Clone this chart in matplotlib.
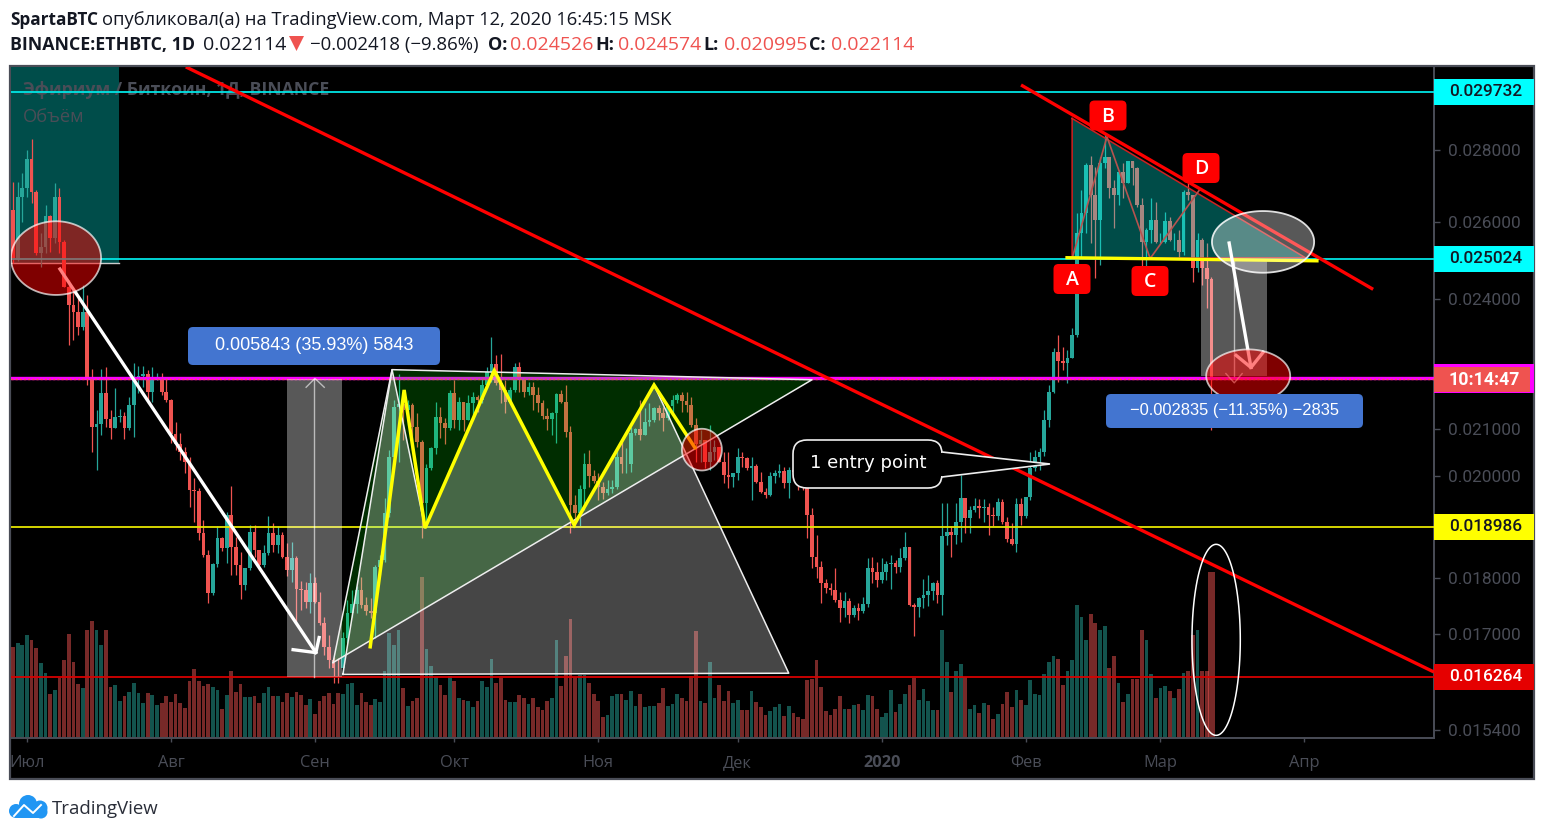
import numpy as np
import matplotlib
matplotlib.use("Agg")
import matplotlib.pyplot as plt
from matplotlib.patches import Rectangle, FancyBboxPatch, Polygon, Circle

W, H = 1544, 835

# ETHBTC daily candles, Jun 28 2019 - Mar 12 2020, price * 1e5
first_open = 2633
close = [2501,2668,2693,2774,2682,2519,2534,2617,2558,2668,2548,2433,2388,2371,2335,2371,2219,2107,2114,2182,
         2125,2105,2130,2132,2105,2156,2217,2221,2226,2185,2217,2217,2185,2167,2093,2070,2053,2032,1976,1974,
         1891,1848,1778,1831,1881,1862,1926,1864,1829,1792,1824,1893,1858,1829,1852,1891,1867,1887,1845,1820,
         1843,1785,1783,1761,1796,1761,1724,1682,1660,1646,1645,1698,1742,1758,1783,1756,1744,1742,1826,1839,
         1930,2044,2151,2158,2145,2156,2107,2076,1950,2021,2063,2130,2116,2105,2182,2123,2163,2123,2160,2174,
         2167,2200,2230,2249,2205,2189,2163,2189,2240,2212,2185,2196,2178,2160,2132,2125,2138,2180,2163,2097,
         1946,1930,1978,2028,2004,1994,1982,1970,1978,1982,2044,2028,2028,2095,2103,2090,2119,2123,2149,2138,
         2127,2154,2167,2178,2165,2156,2112,2070,2080,2034,2055,2065,2032,2007,2002,2011,2044,2042,2021,2025,
         1992,1972,1966,2004,2011,2015,1990,2017,2013,2009,2000,1926,1845,1826,1796,1787,1783,1765,1751,1763,
         1738,1751,1745,1758,1824,1817,1802,1817,1831,1833,1826,1843,1864,1756,1752,1769,1774,1781,1796,1774,
         1885,1893,1887,1912,1960,1920,1936,1944,1940,1942,1926,1924,1952,1912,1879,1869,1948,1924,1962,2021,
         2044,2055,2123,2185,2276,2256,2251,2263,2316,2571,2625,2757,2674,2606,2763,2780,2693,2674,2738,2707,
         2768,2748,2646,2548,2579,2606,2548,2548,2604,2553,2553,2522,2682,2674,2481,2553,2481,2453,2211]
high = [2710,2710,2735,2800,2832,2688,2571,2646,2619,2707,2693,2553,2451,2425,2408,2438,2413,2237,2145,2237,
        2242,2145,2194,2147,2141,2174,2251,2244,2244,2235,2242,2228,2228,2219,2169,2119,2095,2065,2044,2000,
        1980,1916,1858,1833,1903,1883,1932,1984,1883,1854,1824,1906,1906,1858,1867,1924,1910,1903,1893,1871,
        1873,1846,1800,1798,1815,1807,1779,1734,1703,1665,1663,1707,1765,1783,1790,1807,1770,1769,1829,1848,
        1960,2059,2167,2224,2167,2167,2160,2138,2080,2028,2065,2163,2151,2127,2189,2212,2174,2163,2178,2185,
        2178,2217,2242,2311,2270,2272,2212,2196,2251,2253,2219,2208,2208,2196,2167,2149,2141,2182,2189,2200,
        2109,1966,1986,2051,2059,2017,2011,1992,1996,1996,2065,2076,2063,2107,2105,2167,2149,2160,2151,2156,
        2151,2156,2178,2182,2185,2185,2174,2127,2101,2080,2112,2080,2065,2053,2055,2011,2063,2055,2044,2044,
        2028,2013,1980,2013,2017,2028,2023,2023,2021,2017,2017,2000,1940,1887,1837,1804,1796,1824,1779,1779,
        1769,1756,1760,1770,1843,1845,1835,1843,1837,1848,1839,1862,1893,1864,1760,1770,1804,1811,1798,1802,
        1950,1950,1903,1950,2007,1960,1944,1960,1958,1958,1950,1942,1960,1958,1922,1910,1960,1960,1962,2053,
        2059,2063,2145,2200,2285,2316,2288,2281,2333,2625,2688,2763,2782,2751,2780,2850,2780,2715,2743,2763,
        2768,2768,2751,2665,2585,2665,2655,2571,2628,2614,2571,2579,2688,2707,2674,2571,2558,2545,2457]
low = [2494,2499,2601,2668,2652,2514,2483,2519,2522,2545,2519,2433,2292,2304,2316,2328,2200,2055,2017,2090,
       2107,2082,2105,2119,2082,2101,2086,2182,2196,2160,2163,2212,2178,2163,2074,2059,2038,2011,1942,1912,
       1877,1845,1760,1774,1826,1856,1833,1811,1811,1767,1783,1820,1845,1820,1826,1848,1854,1852,1843,1809,
       1798,1726,1747,1751,1742,1760,1720,1668,1646,1621,1621,1635,1689,1734,1742,1751,1738,1733,1698,1811,
       1835,1922,2042,2032,2080,2112,2059,2065,1881,1906,2017,2049,2084,2070,2101,2105,2101,2099,2123,2123,
       2141,2160,2194,2208,2200,2160,2138,2160,2185,2185,2174,2178,2145,2141,2125,2101,2090,2074,2160,2086,
       1891,1903,1903,1936,1982,1990,1956,1958,1966,1970,1978,2011,2011,2013,2090,2080,2090,2110,2119,2123,
       2099,2123,2138,2160,2141,2141,2107,2032,2032,2021,2017,2038,2032,1990,1980,1982,1996,2023,2017,1956,
       1990,1970,1960,1964,1990,2002,1980,1960,1996,1976,1976,1881,1824,1805,1760,1778,1774,1761,1726,1734,
       1724,1734,1729,1742,1752,1796,1789,1796,1802,1785,1815,1817,1839,1754,1701,1734,1751,1754,1765,1760,
       1738,1867,1845,1869,1873,1891,1891,1932,1920,1912,1887,1903,1916,1908,1873,1867,1854,1905,1920,1956,
       2015,2017,2046,2107,2182,2208,2235,2205,2263,2311,2509,2571,2545,2456,2489,2748,2665,2585,2646,2665,
       2707,2701,2641,2483,2483,2545,2545,2545,2545,2550,2527,2509,2514,2660,2446,2471,2438,2382,2100]
volume = [91,95,93,103,98,90,75,65,44,48,60,78,104,76,54,50,108,117,108,93,
          108,51,53,37,42,46,55,45,35,45,43,33,35,42,36,44,35,30,57,69,
          57,52,54,51,48,29,43,67,46,54,41,41,42,35,45,51,42,42,36,45,
          41,46,43,33,39,24,37,42,45,34,45,44,54,55,33,45,36,33,39,36,
          67,105,93,108,50,32,37,40,161,89,72,61,53,43,62,57,40,38,37,31,
          37,57,51,79,55,60,38,36,36,43,40,34,40,31,28,37,40,98,52,82,
          119,61,63,63,55,44,37,21,23,42,44,44,38,47,32,44,31,32,32,35,
          50,32,34,44,40,37,62,107,37,35,76,40,53,37,47,35,38,28,28,47,
          36,31,23,27,31,34,22,32,25,21,19,58,59,78,51,27,23,29,42,29,
          29,33,34,28,43,42,29,21,25,48,26,34,44,53,60,38,49,37,28,28,
          108,76,46,67,74,61,29,33,25,35,33,19,24,34,46,31,48,38,33,58,
          44,43,64,76,82,79,53,67,78,133,121,98,124,115,108,112,70,82,55,36,
          44,59,59,108,98,64,40,50,52,47,40,49,65,67,103,108,67,67,166]

# axis labels
month_pos = [3, 34, 65, 95, 126, 156, 187, 218, 247, 278]
month_names = ["Июл", "Авг", "Сен", "Окт", "Ноя", "Дек", "2020", "Фев", "Мар", "Апр"]
price_ticks = [0.028, 0.026, 0.024, 0.021, 0.020, 0.018, 0.017, 0.0154]

# horizontal levels
level_top = 0.029732
level_mid = 0.025024
level_yellow = 0.018986
level_low = 0.016264
level_magenta = 0.02214
last_price = 0.022114

# drawings, (bar index, price)
trend_long = ([37.2, 305.9], [0.03049, 0.01639])
trend_short = ([217, 292.8], [0.02993, 0.02427])
green_tri = ([68.9, 81.6, 172], [0.01655, 0.02235, 0.02212])
pattern = ([71, 81.6, 88.7, 103.6, 120.8, 138, 167],
           [0.01635, 0.02235, 0.0190, 0.02233, 0.01906, 0.0220, 0.01637])
yellow_zig = ([76.9, 84.2, 88.7, 103.6, 120.8, 138, 146.8],
              [0.01682, 0.02189, 0.0190, 0.02233, 0.01906, 0.0220, 0.02063])
abcd_tri = ([228, 228, 278.2], [0.02892, 0.02505, 0.02507])
abcd_zig = ([228, 235.5, 244.8, 255.5], [0.02505, 0.02838, 0.02505, 0.02689])
yellow_line = ([226.9, 280.7], [0.02507, 0.02499])
rect_up = (59, 70.8, 0.016264, 0.022107)
rect_down = (255.8, 270, 0.022189, 0.025024)
head_up = ([63.1, 65, 67], [0.02195, 0.02215, 0.02195])
head_down = ([261.1, 262.9, 264.6], [0.02226, 0.02205, 0.02226])
arrow_down_left = ([10.1, 65.2], [0.02478, 0.01672])
arrow_head_left = ([60.3, 65.2, 65.9], [0.01677, 0.01672, 0.01698])
arrow_down_right = ([261.8, 266.5], [0.02545, 0.0224])
arrow_head_right = ([263.3, 266.5, 269.1], [0.02268, 0.0224, 0.02275])

bg = "#000000"
scale_col = "#4a4d57"
up_col = "#26a69a"
down_col = "#ef5350"
tag_font = "Roboto"


def cal(p):
    # values were read with a slightly different px-per-log-unit, 975 vs 970
    return 0.028 * (np.asarray(p, dtype=float) / 0.028) ** (975 / 970)


close = cal(np.array(close) / 1e5)
high = cal(np.array(high) / 1e5)
low = cal(np.array(low) / 1e5)
open_ = np.r_[cal(first_open / 1e5), close[:-1]]
x = np.arange(len(close))
is_up = close >= open_
colors = np.where(is_up, up_col, down_col)

fig = plt.figure(figsize=(W / 100, H / 100), dpi=100, facecolor="white")
plt.rcParams["font.family"] = ["Open Sans", "DejaVu Sans"]


def fx(v):
    return v / W


def fy(v):
    return 1 - v / H


def px_rect(x0, y0, x1, y1, **kw):
    fig.add_artist(Rectangle((fx(x0), fy(y1)), fx(x1 - x0), (y1 - y0) / H,
                             transform=fig.transFigure, **kw))


def px_round(x0, y0, x1, y1, r, **kw):
    # rounded box, given in pixels of the picture
    fig.add_artist(FancyBboxPatch((x0 + r, H - y1 + r), x1 - x0 - 2 * r, y1 - y0 - 2 * r,
                                  boxstyle=f"round,pad={r},rounding_size={r}",
                                  transform=None, **kw))


def px_text(px, py, s, **kw):
    kw.setdefault("va", "center")
    fig.text(fx(px), fy(py), s, **kw)


def closed(shape):
    return shape[0] + shape[0][:1], list(cal(shape[1] + shape[1][:1]))


# chart frame
px_rect(10, 66, 1534, 779, facecolor=bg, edgecolor=scale_col, linewidth=1.6, zorder=-5)

pos = [fx(11), fy(738), fx(1434 - 11), (738 - 67) / H]
ax_vol = fig.add_axes(pos, facecolor=bg)
ax = fig.add_axes(pos)
ax.patch.set_visible(False)

# volume pane, same box as the price pane
vol_width = np.full(len(x), 0.8)
vol_width[-1] = 1.35
ax_vol.bar(x, volume, width=vol_width, color=np.where(is_up, "#26a69a80", "#ef535080"), linewidth=0)
ax_vol.set_xlim(-0.43, 305.9)
ax_vol.set_ylim(0, 671)
ax_vol.axis("off")

ax.set_yscale("log")
ax.set_xlim(-0.43, 305.9)
ax.set_ylim(0.01527, 0.0305)

p_box = cal(0.02494)
ax.fill([-0.43, 22.8, 22.8, -0.43], [0.0305, 0.0305, p_box, p_box], color="#004d4a", lw=0, zorder=1)
ax.plot([-0.43, 22.8], [p_box, p_box], color="white", lw=1, alpha=0.8, zorder=1.1)

ax.vlines(x, low, high, colors=colors, lw=0.9, zorder=2)
ax.bar(x, close - open_, bottom=open_, width=0.8, color=colors, linewidth=0, zorder=2)

ax.text(0.0084, 0.9657, "Эфириум / Биткоин, 1Д, BINANCE", color=scale_col, fontsize=12.7,
        fontweight="bold", va="center", transform=ax.transAxes, zorder=2.5)
ax.text(0.0084, 0.9255, "Объём", color=scale_col, fontsize=13.2, va="center",
        transform=ax.transAxes, zorder=2.5)

# levels
ax.axhline(level_top, color="#00e5e5", lw=1.3, zorder=3)
ax.axhline(level_mid, color="#00e5e5", lw=1.3, zorder=3)
ax.axhline(level_yellow, color="#e6e600", lw=1.3, zorder=3)
ax.axhline(level_low, color="#d80000", lw=1.3, zorder=3)
ax.axhline(level_magenta, color="#ff00ff", lw=2.4, zorder=3)
ax.axhline(last_price, color="#ef5350", lw=1, ls=(0, (1.5, 1.5)), zorder=3)

# shapes on top of the candles
ax.fill(green_tri[0], cal(green_tri[1]), color=(0, 1, 0, 0.18), lw=0, zorder=4)
ax.fill(pattern[0], cal(pattern[1]), color=(1, 1, 1, 0.28), lw=0, zorder=4)
ax.plot(*closed(green_tri), color="#eeeeee", lw=1.1, zorder=4.1)
ax.plot(*closed(pattern), color="#eeeeee", lw=1.1, zorder=4.1)

ax.fill(abcd_tri[0], cal(abcd_tri[1]), color=(0, 1, 0.95, 0.3), lw=0, zorder=4)
ax.plot(*closed(abcd_tri), color="#d02020", lw=1.1, zorder=4.1)
ax.plot(abcd_zig[0], cal(abcd_zig[1]), color="#b5534f", lw=1.2, zorder=4.2)

for x0, x1, p0, p1 in (rect_up, rect_down):
    ax.fill([x0, x1, x1, x0], [p0, p0, p1, p1], color=(1, 1, 1, 0.35), lw=0, zorder=4)
    mid = (x0 + x1) / 2
    ax.plot([mid, mid], [p0, p1], color="white", lw=1, alpha=0.6, zorder=4.1)
ax.plot(head_up[0], cal(head_up[1]), color="white", lw=1, alpha=0.6, zorder=4.1)
ax.plot(head_down[0], cal(head_down[1]), color="white", lw=1, alpha=0.6, zorder=4.1)

ax.plot(trend_long[0], cal(trend_long[1]), color="#ff0000", lw=2.4, zorder=5, solid_capstyle="butt")
ax.plot(trend_short[0], cal(trend_short[1]), color="#ff0000", lw=2.4, zorder=5, solid_capstyle="butt")
ax.plot(yellow_line[0], cal(yellow_line[1]), color="#ffff00", lw=2.4, zorder=5)
ax.plot(yellow_zig[0], cal(yellow_zig[1]), color="#ffff00", lw=2.5, zorder=5, solid_joinstyle="miter")

for shape in (arrow_down_left, arrow_head_left, arrow_down_right, arrow_head_right):
    ax.plot(shape[0], cal(shape[1]), color="white", lw=2.4, zorder=5)


def ellipse(cx, cy, rx, ry, face, edge, lw=1.3):
    t = np.linspace(0, 2 * np.pi, 120)
    ax.fill(cx + rx * np.cos(t), cal(cy) * np.exp(ry * np.sin(t)), facecolor=face, edgecolor=edge,
            lw=lw, zorder=6)


ellipse(9.26, 0.02506, 9.7, 0.038, (1, 0, 0, 0.5), (1, 1, 1, 0.7))
ellipse(148.3, 0.02059, 4.3, 0.0215, (1, 0, 0, 0.5), (1, 1, 1, 0.7))
ellipse(269.1, 0.02548, 11, 0.0318, (1, 1, 1, 0.35), (1, 1, 1, 0.85))
ellipse(265.9, 0.02221, 9.04, 0.0272, (1, 0, 0, 0.5), (1, 1, 1, 0.7))
ellipse(259, 0.01694, 5.2, 0.0985, (0, 0, 0, 0), "white", lw=1.1)

# axes look
for name, sp in ax.spines.items():
    sp.set_visible(name in ("right", "bottom"))
    sp.set_color(scale_col)
    sp.set_linewidth(1.4)
ax.yaxis.tick_right()
ax.set_yticks(price_ticks)
ax.set_yticklabels([f"{p:.6f}" for p in price_ticks], fontfamily=tag_font, fontsize=12.4)
ax.minorticks_off()
ax.tick_params(axis="y", colors=scale_col, length=4, width=1, pad=6)
ax.set_xticks(month_pos)
ax.set_xticklabels(month_names, fontsize=11.8)
ax.tick_params(axis="x", colors=scale_col, length=3, width=1, pad=9)
for lab in ax.get_xticklabels():
    if lab.get_text() == "2020":
        lab.set_fontweight("bold")


def price_y(p):
    return H - ax.transData.transform((0, p))[1]


# price tags on the scale
for p, face, txt, col in [(level_top, "#00ffff", "0.029732", "#131722"),
                          (level_mid, "#00ffff", "0.025024", "#131722"),
                          (level_yellow, "#ffff00", "0.018986", "#131722"),
                          (level_low, "#e50000", "0.016264", "white")]:
    yy = price_y(p)
    px_rect(1434, yy - 13, 1534, yy + 13, facecolor=face, linewidth=0, zorder=3)
    px_text(1449, yy, txt, color=col, fontfamily=tag_font, fontsize=12.4, fontweight="medium", zorder=4)
px_rect(1434, 364, 1534, 393, facecolor="#ff00ff", linewidth=0, zorder=3)
px_rect(1434, 367, 1530, 392, facecolor=down_col, linewidth=0, zorder=3.1)
px_text(1448, 380, "10:14:47", color="white", fontfamily=tag_font, fontsize=12.8, fontweight="bold", zorder=4)

# measure labels
px_round(188, 327, 440, 365, 5, facecolor="#4375d0", linewidth=0, zorder=3)
px_text(314, 345.5, "0.005843 (35.93%) 5843", color="white", fontfamily="Liberation Sans",
        fontsize=13, ha="center", zorder=4)
px_round(1106, 394, 1363, 428, 5, facecolor="#4375d0", linewidth=0, zorder=3)
px_text(1234.5, 411, "−0.002835 (−11.35%) −2835", color="white", fontfamily="Liberation Sans",
        fontsize=11.9, ha="center", zorder=4)

# A B C D
for cx, cy, s in [(1072, 279, "A"), (1108, 115.5, "B"), (1150, 281, "C"), (1201, 168, "D")]:
    w = 18.5
    px_round(cx - w, cy - 15, cx + w, cy + 15, 5, facecolor="#ff0000", linewidth=0, zorder=3)
    px_text(cx, cy + 1, s, color="white", fontsize=14, fontweight="semibold", ha="center", zorder=4)

# callout
px_round(793, 440, 942, 488, 14, facecolor="black", edgecolor="#eeeeee", linewidth=1.2, zorder=3)
fig.add_artist(Polygon([(942, H - 452), (1050, H - 464), (942, H - 477)], closed=False,
                       transform=None, facecolor="black", edgecolor="#eeeeee", linewidth=1.2, zorder=3.1))
fig.add_artist(Rectangle((940, H - 476), 4, 23, transform=None, facecolor="black", linewidth=0, zorder=3.2))
px_text(868, 463, "1 entry point", color="white", fontfamily="DejaVu Sans", fontsize=13, ha="center", zorder=4)

# header
dark = "#131722"
px_text(10, 20, "SpartaBTC", color=dark, fontsize=12.4, fontweight="bold")
px_text(102, 20, "опубликовал(а) на TradingView.com, Март 12, 2020 16:45:15 MSK", color=dark, fontsize=13.2)
px_text(10, 45, "BINANCE:ETHBTC, 1D", color=dark, fontsize=12.8, fontweight="bold")
px_text(203, 45, "0.022114", color=dark, fontsize=14)
fig.add_artist(Polygon([(289, H - 36), (304, H - 36), (296.5, H - 51)], transform=None,
                       facecolor=down_col, linewidth=0))
px_text(310, 45, "−0.002418 (−9.86%)", color=dark, fontsize=13.4)
for px, lab, px2, val in [(488, "O:", 510, "0.024526"), (595, "H:", 618, "0.024574"),
                          (703, "L:", 724, "0.020995"), (809, "C:", 831, "0.022114")]:
    px_text(px, 45, lab, color=dark, fontsize=13, fontweight="bold")
    px_text(px2, 45, val, color=down_col, fontsize=14)

# logo
blue = "#2196f3"
for cx, cy, r in [(16, 811, 7), (28, 804, 9), (40, 808, 7.5), (41, 812, 6.5)]:
    fig.add_artist(Circle((cx, H - cy), r, transform=None, facecolor=blue, linewidth=0, zorder=2))
fig.add_artist(Rectangle((16, H - 818), 26, 10, transform=None, facecolor=blue, linewidth=0, zorder=2))
fig.add_artist(plt.Line2D([14, 24, 33, 41], [H - 816, H - 805, H - 813, H - 805], transform=None,
                          color="white", lw=1.4, zorder=3))
px_text(52, 809, "TradingView", color="#2a2e39", fontsize=13.4)

fig.savefig("out.png", dpi=100, facecolor="white")
